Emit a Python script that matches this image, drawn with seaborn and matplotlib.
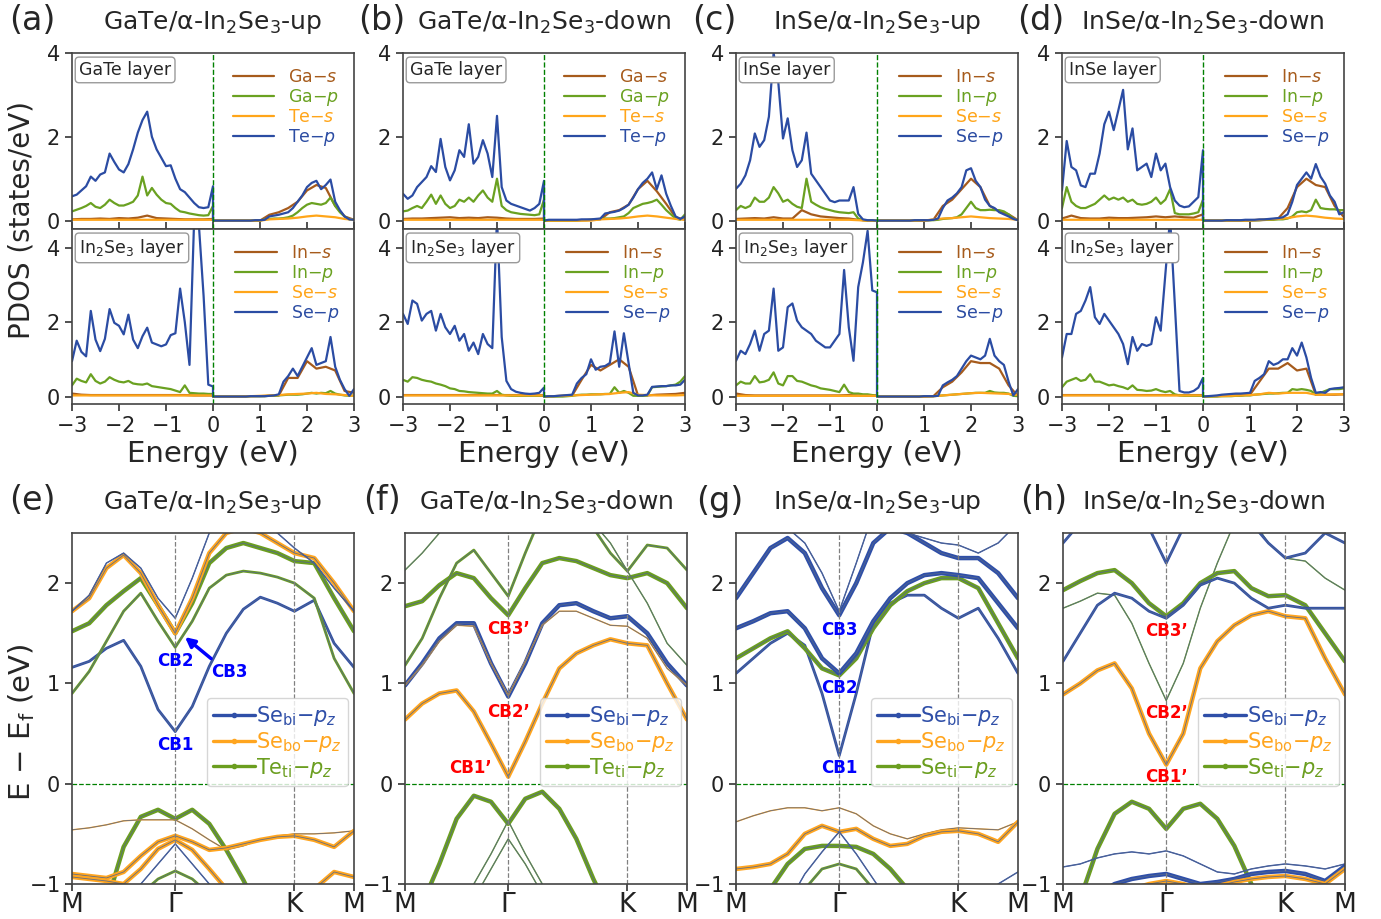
import numpy as np
import seaborn as sns
import matplotlib.pyplot as plt
from matplotlib.lines import Line2D

sns.set_style("ticks")
plt.rcParams["font.family"] = ["DejaVu Sans"]
plt.rcParams["mathtext.fontset"] = "dejavusans"

# ---------------- energy grids (eV) ----------------
E_FINE = np.concatenate([np.linspace(-3, 0, 31), np.linspace(0, 3, 31)])
E_COARSE = np.concatenate([np.linspace(-3, 0, 16), np.linspace(0, 3, 16)])

# ---------------- PDOS data (VB part then CB part) ----------------
# naming: panel + layer(1 = top layer, 2 = In2Se3), MS/MP = metal s/p, XS/XP = chalcogen s/p
A1_XP = [0.58,0.62,0.72,0.82,1.05,0.95,1.1,1.15,1.6,1.4,1.22,1.15,1.35,1.7,2.1,2.4,2.6,2.0,1.7,1.5,1.3,1.32,1.0,0.75,0.68,0.55,0.42,0.32,0.3,0.32,0.82,
         0,0,0,0,0,0,0,0,0,0.01,0.01,0.02,0.1,0.12,0.14,0.17,0.2,0.3,0.45,0.6,0.8,0.9,0.95,0.75,0.85,0.98,0.45,0.25,0.1,0.03,0.02]
A1_MP = [0.22,0.26,0.3,0.35,0.42,0.33,0.3,0.38,0.5,0.42,0.36,0.36,0.4,0.45,0.6,1.05,0.6,0.78,0.62,0.5,0.42,0.4,0.3,0.22,0.2,0.17,0.15,0.13,0.12,0.13,0.35,
         0,0,0,0,0,0,0,0,0,0,0,0.03,0.04,0.05,0.05,0.06,0.08,0.12,0.2,0.3,0.38,0.42,0.4,0.38,0.42,0.55,0.35,0.2,0.1,0.03,0.02]
A1_MS = [0.03,0.04,0.04,0.05,0.04,0.06,0.05,0.07,0.12,0.06,0.05,0.04,0.03,0.03,0.03,0.04,
         0,0,0,0,0,0,0.14,0.2,0.3,0.45,0.72,0.85,0.78,0.35,0.1,0.02]
A1_XS = [0.02,0.02,0.02,0.02,0.02,0.02,0.02,0.02,0.02,0.02,0.02,0.02,0.02,0.02,0.02,0.02,
         0,0,0,0,0,0,0.03,0.04,0.05,0.07,0.1,0.12,0.1,0.08,0.04,0.02]

A2_XP = [0.95,1.5,1.2,1.08,2.3,1.53,1.22,1.55,2.35,1.98,1.9,1.67,2.2,1.53,1.3,1.62,1.85,1.45,1.4,1.35,1.4,1.65,1.7,2.9,2.0,0.85,4.8,4.6,2.7,0.32,0.27,
         0,0,0,0,0,0,0,0,0.01,0.01,0.01,0.01,0.02,0.03,0.06,0.4,0.55,0.75,0.55,0.8,1.05,1.3,0.85,0.9,0.95,1.6,0.8,0.45,0.2,0.02,0.2]
A2_MP = [0.3,0.48,0.42,0.38,0.6,0.42,0.35,0.4,0.52,0.45,0.4,0.38,0.42,0.35,0.33,0.32,0.35,0.28,0.26,0.24,0.22,0.2,0.16,0.12,0.3,0.1,0.09,0.08,0.08,0.07,0.07,
         0,0,0,0,0,0,0,0,0.01,0.01,0.01,0.01,0.02,0.02,0.03,0.04,0.05,0.05,0.05,0.06,0.08,0.1,0.08,0.1,0.09,0.15,0.08,0.05,0.03,0.02,0.03]
A2_MS = [0.08,0.05,0.04,0.04,0.04,0.04,0.04,0.04,0.04,0.04,0.04,0.04,0.04,0.03,0.03,0.03,
         0,0,0,0,0.01,0.01,0.02,0.03,0.5,0.5,0.95,0.75,0.8,0.7,0.15,0.1]
A2_XS = [0.03,0.03,0.03,0.03,0.03,0.03,0.03,0.03,0.03,0.03,0.03,0.03,0.03,0.03,0.03,0.03,
         0,0,0,0,0.01,0.02,0.03,0.04,0.06,0.07,0.08,0.1,0.07,0.06,0.04,0.02]

B1_XP = [0.64,0.52,0.6,0.8,0.92,1.04,1.3,1.16,1.95,1.28,0.96,1.2,1.68,1.52,2.3,1.36,1.52,1.92,1.6,1.04,2.5,0.8,0.48,0.4,0.36,0.32,0.28,0.24,0.3,0.4,0.95,
         0,0.02,0.02,0.02,0.02,0.02,0.02,0.02,0.03,0.03,0.03,0.04,0.05,0.17,0.19,0.21,0.24,0.3,0.38,0.55,0.75,0.9,1.0,1.15,0.75,1.08,0.64,0.35,0.1,0.04,0.1]
B1_MP = [0.22,0.24,0.3,0.35,0.3,0.45,0.62,0.4,0.6,0.4,0.3,0.35,0.5,0.45,0.55,0.45,0.6,0.72,0.55,0.45,1.0,0.35,0.25,0.2,0.18,0.16,0.15,0.14,0.13,0.15,0.5,
         0,0,0,0,0,0,0,0,0.01,0.01,0.02,0.03,0.04,0.05,0.05,0.06,0.08,0.1,0.18,0.3,0.35,0.4,0.42,0.45,0.5,0.38,0.25,0.15,0.05,0.02,0.15]
B1_MS = [0.04,0.05,0.05,0.06,0.07,0.08,0.06,0.07,0.06,0.08,0.07,0.05,0.04,0.04,0.04,0.05,
         0,0,0,0,0.01,0.02,0.03,0.2,0.25,0.38,0.75,0.95,0.7,0.4,0.08,0.02]
B1_XS = [0.02,0.02,0.02,0.02,0.02,0.02,0.02,0.02,0.02,0.02,0.02,0.02,0.02,0.02,0.02,0.02,
         0,0,0,0,0,0,0.03,0.04,0.05,0.07,0.1,0.12,0.1,0.07,0.04,0.02]

B2_XP = [2.22,1.95,2.58,2.49,2.04,2.22,2.3,1.77,2.22,1.86,1.68,1.9,1.5,1.68,1.23,1.45,1.14,1.68,1.41,1.3,4.8,1.6,0.42,0.2,0.13,0.1,0.08,0.07,0.08,0.1,0.24,
         0,0.01,0.01,0.02,0.03,0.04,0.05,0.35,0.5,0.6,1.0,0.72,0.8,0.82,0.9,1.75,0.8,1.7,0.9,0.1,0.03,0.03,0.05,0.26,0.27,0.28,0.28,0.3,0.3,0.32,0.45]
B2_MP = [0.45,0.4,0.52,0.5,0.45,0.42,0.4,0.35,0.32,0.28,0.22,0.2,0.15,0.14,0.12,0.11,0.1,0.09,0.08,0.08,0.15,0.05,0.03,0.02,0.02,0.02,0.02,0.02,0.02,0.02,0.02,
         0,0,0,0,0,0.01,0.02,0.04,0.05,0.05,0.06,0.06,0.06,0.07,0.07,0.25,0.1,0.15,0.1,0.02,0.02,0.02,0.03,0.25,0.26,0.27,0.28,0.3,0.32,0.4,0.55]
B2_MS = [0.04,0.04,0.04,0.04,0.04,0.04,0.04,0.04,0.04,0.04,0.04,0.04,0.04,0.04,0.04,0.04,
         0,0.01,0.02,0.03,0.45,0.85,0.7,0.85,1.0,0.8,0.03,0.03,0.05,0.06,0.07,0.1]
B2_XS = [0.03,0.03,0.03,0.03,0.03,0.03,0.03,0.03,0.03,0.03,0.03,0.03,0.03,0.03,0.03,0.03,
         0,0.01,0.02,0.03,0.04,0.05,0.06,0.07,0.1,0.12,0.05,0.04,0.03,0.03,0.03,0.04]

C1_XP = [0.76,0.88,1.08,1.44,2.08,1.76,1.92,2.48,4.0,3.3,1.96,2.44,1.68,1.28,1.44,2.1,1.12,0.96,0.8,0.64,0.48,0.44,0.48,0.48,0.48,0.8,0.16,0.03,0.01,0.01,0.0,
         0,0,0,0,0,0,0,0,0.01,0.01,0.01,0.01,0.02,0.05,0.3,0.48,0.55,0.65,0.8,1.2,1.25,0.95,0.8,0.5,0.35,0.3,0.2,0.15,0.1,0.04,0.01]
C1_MP = [0.25,0.35,0.3,0.35,0.55,0.45,0.45,0.55,0.8,0.65,0.45,0.5,0.4,0.33,0.3,1.0,0.45,0.38,0.32,0.28,0.25,0.22,0.2,0.19,0.18,0.2,0.05,0.01,0.0,0.0,0.0,
         0,0,0,0,0,0,0,0,0,0,0.01,0.01,0.01,0.02,0.04,0.05,0.06,0.08,0.15,0.3,0.45,0.3,0.25,0.25,0.26,0.25,0.25,0.22,0.15,0.05,0.01]
C1_MS = [0.04,0.05,0.06,0.05,0.08,0.05,0.05,0.25,0.15,0.1,0.08,0.06,0.05,0.02,0.0,0.0,
         0,0,0,0,0,0,0.02,0.35,0.5,0.75,1.0,0.8,0.35,0.22,0.15,0.01]
C1_XS = [0.02,0.02,0.02,0.02,0.02,0.02,0.02,0.02,0.02,0.02,0.02,0.02,0.02,0.01,0,0,
         0,0,0,0,0,0,0.03,0.05,0.06,0.08,0.1,0.08,0.06,0.05,0.04,0.02]

C2_XP = [0.96,1.23,1.14,1.41,1.77,1.23,1.68,1.77,2.9,1.23,1.32,2.4,2.5,2.04,1.86,1.77,1.68,1.5,1.41,1.32,1.32,1.5,1.68,3.4,1.86,0.96,2.94,3.6,4.45,2.85,2.8,
         0,0,0,0,0,0,0,0,0,0,0.01,0.01,0.01,0.02,0.3,0.38,0.45,0.55,0.75,0.95,1.1,1.05,1.0,1.1,1.55,1.1,0.95,0.85,0.4,0.03,0.2]
C2_MP = [0.3,0.4,0.35,0.35,0.55,0.38,0.4,0.45,0.65,0.35,0.3,0.55,0.55,0.42,0.4,0.35,0.3,0.27,0.22,0.2,0.18,0.15,0.12,0.32,0.12,0.08,0.08,0.06,0.06,0.04,0.03,
         0,0,0,0,0,0,0,0,0,0,0.01,0.01,0.01,0.02,0.03,0.04,0.05,0.06,0.07,0.08,0.09,0.1,0.1,0.1,0.15,0.11,0.1,0.1,0.08,0.02,0.01]
C2_MS = [0.08,0.04,0.03,0.03,0.03,0.03,0.03,0.03,0.03,0.03,0.03,0.03,0.04,0.03,0.02,0.02,
         0,0,0,0,0,0,0.01,0.25,0.4,0.65,0.95,0.9,0.9,0.75,0.3,0.01]
C2_XS = [0.02,0.02,0.02,0.02,0.02,0.02,0.02,0.02,0.02,0.02,0.02,0.02,0.02,0.02,0.02,0.02,
         0,0,0,0,0,0,0.01,0.03,0.05,0.07,0.09,0.1,0.09,0.08,0.07,0.04]

D1_XP = [0.72,1.9,1.28,1.2,0.84,0.8,1.12,1.12,1.6,2.3,2.6,2.16,2.64,3.12,1.7,2.2,1.2,1.28,1.36,1.04,1.6,1.2,1.36,0.8,0.48,0.36,0.32,0.34,0.45,0.56,1.68,
         0,0,0,0,0,0.01,0.01,0.01,0.01,0.02,0.02,0.02,0.03,0.03,0.04,0.05,0.06,0.08,0.15,0.45,0.85,1.0,1.15,1.0,1.35,1.05,0.88,0.6,0.45,0.15,0.2]
D1_MP = [0.3,0.8,0.45,0.35,0.3,0.3,0.35,0.4,0.5,0.6,0.5,0.55,0.5,0.55,0.45,0.5,0.4,0.38,0.4,0.45,0.55,0.4,0.5,0.75,0.18,0.15,0.15,0.15,0.17,0.2,0.5,
         0,0,0,0,0,0,0,0,0,0.01,0.01,0.01,0.01,0.02,0.02,0.02,0.03,0.03,0.05,0.1,0.2,0.22,0.2,0.25,0.5,0.3,0.28,0.27,0.27,0.25,0.25]
D1_MS = [0.05,0.12,0.06,0.05,0.05,0.07,0.06,0.06,0.07,0.08,0.1,0.08,0.1,0.08,0.07,0.15,
         0,0,0,0,0,0,0.01,0.02,0.05,0.3,0.8,1.0,0.85,0.8,0.35,0.08]
D1_XS = [0.02,0.02,0.02,0.02,0.02,0.02,0.02,0.02,0.02,0.02,0.02,0.02,0.02,0.02,0.02,0.02,
         0,0,0,0,0,0.01,0.02,0.03,0.04,0.06,0.1,0.12,0.1,0.07,0.05,0.04]

D2_XP = [1.05,1.68,1.68,2.22,2.3,2.58,2.94,2.13,1.95,2.22,2.04,1.86,1.68,1.41,0.87,1.6,1.23,1.41,1.36,1.41,2.13,1.77,3.3,4.8,2.49,0.15,0.11,0.11,0.15,0.24,0.5,
         0,0.01,0.02,0.03,0.05,0.06,0.07,0.08,0.08,0.09,0.1,0.42,0.5,0.6,0.95,0.85,0.9,1.0,1.0,1.3,1.1,1.45,1.05,0.5,0.1,0.12,0.1,0.2,0.22,0.23,0.25]
D2_MP = [0.25,0.4,0.45,0.5,0.42,0.45,0.6,0.4,0.4,0.35,0.3,0.32,0.28,0.25,0.2,0.3,0.18,0.17,0.15,0.16,0.2,0.15,0.12,0.15,0.06,0.03,0.02,0.02,0.02,0.02,0.02,
         0,0,0,0,0.01,0.01,0.01,0.02,0.02,0.03,0.03,0.05,0.06,0.07,0.08,0.08,0.09,0.1,0.1,0.2,0.18,0.2,0.18,0.15,0.05,0.1,0.15,0.2,0.2,0.2,0.22]
D2_MS = [0.04,0.04,0.04,0.04,0.04,0.04,0.04,0.04,0.04,0.04,0.04,0.04,0.04,0.04,0.04,0.04,
         0,0.01,0.02,0.03,0.04,0.05,0.4,0.75,0.75,0.9,0.7,0.75,0.05,0.05,0.05,0.06]
D2_XS = [0.03,0.03,0.03,0.03,0.03,0.03,0.03,0.03,0.03,0.03,0.03,0.03,0.03,0.03,0.03,0.03,
         0,0.01,0.01,0.02,0.03,0.04,0.06,0.1,0.08,0.1,0.1,0.1,0.05,0.05,0.06,0.06]

# ---------------- band structures: energies at the k-points of KPATH ----------------
K_G, K_K, K_END = 0.5774, 1.2441, 1.5774
KPATH = np.concatenate([np.linspace(0, K_G, 7), np.linspace(K_G, K_K, 8)[1:],
                        np.linspace(K_K, K_END, 4)[1:]])

BANDS_E = [
    [1.16,1.22,1.35,1.43,1.17,0.74,0.52,0.77,1.17,1.5,1.74,1.86,1.8,1.72,1.83,1.4,1.16],
    [0.9,1.12,1.42,1.72,1.9,1.62,1.36,1.62,1.95,2.08,2.12,2.1,2.06,2.0,1.85,1.25,0.9],
    [1.52,1.6,1.78,1.92,2.05,1.78,1.5,1.8,2.2,2.35,2.4,2.35,2.3,2.22,2.2,1.85,1.52],
    [1.72,1.85,2.15,2.28,2.1,1.78,1.5,1.85,2.3,2.5,2.55,2.5,2.4,2.3,2.25,2.0,1.72],
    [1.72,1.88,2.2,2.3,2.15,1.85,1.65,2.05,2.5,2.7,2.7,2.6,2.5,2.35,2.2,1.95,1.72],
    [-1.5,-1.4,-1.2,-0.63,-0.33,-0.26,-0.35,-0.26,-0.4,-0.66,-0.96,-1.3,-1.5,-1.6,-1.5,-1.4,-1.3],
    [-0.46,-0.44,-0.41,-0.37,-0.36,-0.36,-0.36,-0.45,-0.56,-0.66,-0.62,-0.56,-0.52,-0.5,-0.5,-0.49,-0.47],
    [-0.9,-0.92,-0.94,-0.88,-0.72,-0.58,-0.52,-0.58,-0.66,-0.64,-0.6,-0.56,-0.53,-0.52,-0.56,-0.63,-0.47],
    [-0.93,-0.95,-0.97,-1.0,-0.85,-0.65,-0.56,-0.66,-0.85,-1.05,-1.1,-1.1,-1.1,-1.1,-1.05,-0.88,-0.93],
    [-1.3,-1.25,-1.2,-1.15,-1.0,-0.8,-0.6,-0.8,-1.0,-1.2,-1.3,-1.3,-1.3,-1.3,-1.3,-1.3,-1.3],
    [-1.5,-1.5,-1.4,-1.3,-1.1,-0.95,-0.87,-0.95,-1.1,-1.3,-1.4,-1.5,-1.5,-1.5,-1.5,-1.5,-1.5],
]
BANDS_F = [
    [0.64,0.8,0.9,0.93,0.72,0.4,0.07,0.42,0.8,1.15,1.3,1.38,1.44,1.4,1.38,1.0,0.64],
    [0.98,1.2,1.45,1.6,1.6,1.2,0.87,1.2,1.6,1.78,1.8,1.72,1.65,1.67,1.5,1.2,0.98],
    [0.98,1.18,1.42,1.58,1.57,1.2,0.88,1.22,1.58,1.72,1.72,1.65,1.58,1.57,1.45,1.15,0.98],
    [1.77,1.82,1.98,2.1,2.05,1.85,1.68,1.95,2.2,2.25,2.22,2.15,2.08,2.05,2.1,2.0,1.75],
    [1.18,1.45,1.85,2.2,2.33,2.1,1.87,2.3,2.7,2.8,2.75,2.55,2.3,2.12,2.38,2.35,2.13],
    [2.13,2.3,2.5,2.7,2.7,2.6,2.5,2.7,2.9,2.9,2.8,2.6,2.4,2.12,1.8,1.4,1.18],
    [-1.6,-1.2,-0.8,-0.35,-0.12,-0.18,-0.4,-0.15,-0.08,-0.25,-0.55,-0.95,-1.3,-1.5,-1.6,-1.6,-1.6],
    [-2,-2,-1.7,-1.4,-1.0,-0.7,-0.37,-0.7,-1.0,-1.3,-1.6,-1.8,-2,-2,-2,-2,-2],
    [-2,-2,-1.8,-1.5,-1.15,-0.85,-0.55,-0.8,-1.1,-1.4,-1.7,-2,-2,-2,-2,-2,-2],
]
BANDS_G = [
    [1.1,1.25,1.4,1.5,1.38,0.9,0.28,0.9,1.6,1.8,1.88,1.88,1.75,1.65,1.75,1.45,1.1],
    [1.25,1.35,1.45,1.52,1.35,1.15,1.08,1.25,1.55,1.78,1.92,2.0,2.05,2.05,1.95,1.6,1.25],
    [1.55,1.62,1.7,1.72,1.55,1.25,1.1,1.3,1.62,1.85,2.0,2.08,2.1,2.08,2.05,1.8,1.55],
    [1.85,2.1,2.35,2.45,2.3,1.95,1.68,2.0,2.4,2.55,2.5,2.4,2.3,2.25,2.25,2.1,1.85],
    [2.7,2.7,2.65,2.55,2.4,2.1,1.72,2.2,2.7,2.6,2.5,2.45,2.4,2.38,2.3,2.4,2.6],
    [-0.38,-0.32,-0.27,-0.24,-0.24,-0.27,-0.24,-0.3,-0.42,-0.5,-0.55,-0.5,-0.46,-0.44,-0.45,-0.46,-0.38],
    [-0.85,-0.83,-0.8,-0.7,-0.5,-0.42,-0.48,-0.45,-0.55,-0.62,-0.6,-0.52,-0.48,-0.47,-0.5,-0.58,-0.38],
    [-1.5,-1.3,-1.05,-0.8,-0.65,-0.62,-0.62,-0.63,-0.7,-0.85,-1.05,-1.3,-1.5,-1.5,-1.5,-1.5,-1.5],
    [-1.6,-1.6,-1.5,-1.3,-1.05,-0.85,-0.8,-0.85,-1.05,-1.3,-1.5,-1.6,-1.6,-1.6,-1.6,-1.6,-1.6],
    [-2,-1.8,-1.5,-1.2,-0.9,-0.68,-0.48,-0.7,-0.95,-1.2,-1.5,-1.7,-1.8,-1.8,-1.4,-1.0,-0.88],
]
BANDS_H = [
    [0.89,1.0,1.13,1.2,0.95,0.5,0.19,0.5,1.15,1.42,1.58,1.68,1.72,1.67,1.65,1.25,0.89],
    [1.75,1.82,1.9,1.88,1.6,1.2,0.83,1.2,1.75,2.2,2.6,2.65,2.4,2.25,2.22,2.05,1.93],
    [1.93,2.02,2.1,2.13,2.0,1.8,1.67,1.8,2.0,2.1,2.12,1.95,1.87,1.88,1.78,1.5,1.22],
    [1.22,1.5,1.78,1.9,1.85,1.72,1.65,1.78,1.98,2.05,2.0,1.85,1.75,1.78,1.75,1.75,1.75],
    [2.4,2.6,2.8,2.9,2.8,2.55,2.2,2.55,2.8,2.9,2.8,2.6,2.4,2.25,2.3,2.5,2.4],
    [-1.5,-1.15,-0.65,-0.3,-0.18,-0.25,-0.45,-0.25,-0.2,-0.35,-0.62,-1.0,-1.3,-1.5,-1.6,-1.6,-1.5],
    [-0.83,-0.8,-0.74,-0.7,-0.68,-0.7,-0.67,-0.72,-0.8,-0.88,-0.9,-0.85,-0.82,-0.8,-0.82,-0.85,-0.8],
    [-1.3,-1.2,-1.1,-1.0,-0.95,-0.92,-0.9,-0.95,-1.0,-0.98,-0.95,-0.9,-0.88,-0.87,-0.9,-0.97,-0.82],
    [-1.5,-1.4,-1.3,-1.2,-1.05,-1.0,-0.97,-1.0,-1.05,-1.02,-0.98,-0.95,-0.93,-0.92,-0.95,-1.0,-0.85],
]
# dominant projection of each band (b = Se_bi, o = Se_bo, g = Te_ti/Se_ti) and weight 1..3
STYLE_E = [("b", 2), ("g", 2), ("g", 3), ("o", 3), ("b", 1), ("g", 3), ("o", 1), ("o", 3), ("o", 3), ("b", 1), ("g", 2)]
STYLE_F = [("o", 3), ("b", 3), ("o", 1), ("g", 3), ("g", 2), ("g", 1), ("g", 3), ("g", 1), ("g", 1)]
STYLE_G = [("b", 2), ("g", 3), ("b", 3), ("b", 3), ("b", 1), ("o", 1), ("o", 3), ("g", 3), ("g", 2), ("b", 1)]
STYLE_H = [("o", 3), ("g", 1), ("g", 3), ("b", 2), ("b", 2), ("g", 3), ("b", 1), ("b", 3), ("o", 3)]

# ---------------- colours ----------------
C_MS, C_MP, C_XS, C_XP = "#a65b1c", "#6aa121", "#ffa519", "#2b4ca3"
BAND_C = {"b": "#2f4fa8", "o": "#ffa51f", "g": "#6b9e1f"}
BAND_W = {1: 1.0, 2: 2.0, 3: 3.2}
SPINE = "#444444"

W, H = 1381, 919
fig = plt.figure(figsize=(W / 100, H / 100), dpi=100)

COL_L = [72, 403, 736, 1062]
BAND_L = [72, 405, 736, 1063]
AX_W = 282


def box(left, top, bottom, width=AX_W):
    return [left / W, 1 - bottom / H, width / W, (bottom - top) / H]


def style_axes(ax):
    for s in ax.spines.values():
        s.set_color(SPINE)
        s.set_linewidth(1.2)
    ax.tick_params(colors="#222222", labelsize=15, length=5, width=1.1)


def pdos_panel(ax, curves, labels, layer, ymax, top):
    cols = [C_MS, C_MP, C_XS, C_XP]
    for (x, y), lab, c in zip(curves, labels, cols):
        sns.lineplot(x=x, y=np.array(y), color=c, lw=1.6, label=lab, ax=ax,
                     sort=False, estimator=None)
    ax.axvline(0, color="green", ls="--", lw=1.0)
    ax.set_xlim(-3, 3)
    ax.set_ylim(-0.2, ymax)
    ax.set_yticks([0, 2, 4])
    ax.set_xticks([-3, -2, -1, 0, 1, 2, 3])
    ax.set_ylabel("")
    style_axes(ax)
    ax.legend(loc="upper right", frameon=False, fontsize=12.5, labelcolor="linecolor",
              handlelength=2.4, labelspacing=0.05, borderaxespad=0.45)
    ax.text(0.025, 0.955, layer, transform=ax.transAxes, ha="left", va="top", fontsize=12.5,
            bbox=dict(boxstyle="round,pad=0.22", fc="white", ec="#9a9a9a", lw=1))
    if top:
        ax.tick_params(axis="x", direction="in", labelbottom=False)
        ax.set_xlabel("")
    else:
        ax.set_xticklabels(["$-3$", "$-2$", "$-1$", "0", "1", "2", "3"])
        ax.set_xlabel("Energy (eV)", fontsize=21, labelpad=3)


PDOS = [
    ("GaTe layer", ["Ga", "Te"], (A1_MS, A1_MP, A1_XS, A1_XP), (A2_MS, A2_MP, A2_XS, A2_XP)),
    ("GaTe layer", ["Ga", "Te"], (B1_MS, B1_MP, B1_XS, B1_XP), (B2_MS, B2_MP, B2_XS, B2_XP)),
    ("InSe layer", ["In", "Se"], (C1_MS, C1_MP, C1_XS, C1_XP), (C2_MS, C2_MP, C2_XS, C2_XP)),
    ("InSe layer", ["In", "Se"], (D1_MS, D1_MP, D1_XS, D1_XP), (D2_MS, D2_MP, D2_XS, D2_XP)),
]

for i, (layer, (m, x), top_d, bot_d) in enumerate(PDOS):
    ax1 = fig.add_axes(box(COL_L[i], 53, 229))
    ax2 = fig.add_axes(box(COL_L[i], 229, 404))
    grids = [E_COARSE, E_FINE, E_COARSE, E_FINE]
    labs_top = [f"{m}$-s$", f"{m}$-p$", f"{x}$-s$", f"{x}$-p$"]
    labs_bot = ["In$-s$", "In$-p$", "Se$-s$", "Se$-p$"]
    pdos_panel(ax1, list(zip(grids, top_d)), labs_top, layer, 4.0, True)
    pdos_panel(ax2, list(zip(grids, bot_d)), labs_bot, "In$_2$Se$_3$ layer", 4.5, False)


def band_panel(ax, bands, styles, third, labels):
    for e, (c, w) in zip(bands, styles):
        sns.lineplot(x=KPATH, y=np.array(e), color=BAND_C[c], lw=BAND_W[w], ax=ax,
                     sort=False, estimator=None, legend=False,
                     solid_capstyle="round", solid_joinstyle="round")
        sns.lineplot(x=KPATH, y=np.array(e), color="#55688c", lw=0.6, alpha=0.9, ax=ax,
                     sort=False, estimator=None, legend=False)
    ax.axvline(K_G, color="gray", ls="--", lw=0.9)
    ax.axvline(K_K, color="gray", ls="--", lw=0.9)
    ax.axhline(0, color="green", ls="--", lw=0.9)
    ax.set_xlim(0, K_END)
    ax.set_ylim(-1, 2.5)
    ax.set_xticks([0, K_G, K_K, K_END])
    ax.set_xticklabels(["M", "Γ", "K", "M"], fontsize=19)
    ax.set_yticks([-1, 0, 1, 2])
    ax.set_yticklabels(["$-1$", "0", "1", "2"])
    ax.set_ylabel("")
    style_axes(ax)
    ax.tick_params(axis="x", labelsize=19, pad=1)
    cols = [BAND_C["b"], BAND_C["o"], BAND_C["g"]]
    handles = [Line2D([0], [0], color=c, lw=2.4, marker="o", ms=3) for c in cols]
    names = [r"Se$_{\rm bi}{-}p_z$", r"Se$_{\rm bo}{-}p_z$", third + r"$_{\rm ti}{-}p_z$"]
    ax.legend(handles, names, loc="lower right", bbox_to_anchor=(1.0, 0.262), fontsize=15,
              labelcolor=cols, handlelength=2.0, handletextpad=0.05, labelspacing=0.08,
              borderpad=0.3, borderaxespad=0.3, framealpha=0.8, edgecolor="#cccccc")
    for txt, kx, ey, col in labels:
        ax.text(kx, ey, txt, color=col, fontsize=12, fontweight="bold", ha="center", va="center")


BANDS = [
    (BANDS_E, STYLE_E, "Te", [("CB2", K_G, 1.22, "blue"), ("CB1", K_G, 0.39, "blue"),
                               ("CB3", 0.88, 1.11, "blue")]),
    (BANDS_F, STYLE_F, "Te", [("CB3’", K_G, 1.54, "red"), ("CB2’", K_G, 0.72, "red"),
                               ("CB1’", 0.365, 0.16, "red")]),
    (BANDS_G, STYLE_G, "Se", [("CB3", K_G, 1.53, "blue"), ("CB2", K_G, 0.95, "blue"),
                               ("CB1", K_G, 0.16, "blue")]),
    (BANDS_H, STYLE_H, "Se", [("CB3’", K_G, 1.52, "red"), ("CB2’", K_G, 0.71, "red"),
                               ("CB1’", K_G, 0.07, "red")]),
]

for i, (bands, styles, third, labels) in enumerate(BANDS):
    ax = fig.add_axes(box(BAND_L[i], 533, 884))
    band_panel(ax, bands, styles, third, labels)
    if i == 0:
        ax.annotate("", xy=(0.62, 1.48), xytext=(0.79, 1.23),
                    arrowprops=dict(arrowstyle="-|>", color="blue", lw=2.5, mutation_scale=14))

# titles and panel letters
TITLES = ["GaTe/α-In$_2$Se$_3$-up", "GaTe/α-In$_2$Se$_3$-down",
          "InSe/α-In$_2$Se$_3$-up", "InSe/α-In$_2$Se$_3$-down"]
TOP_TAGS = [("(a)", 32), ("(b)", 382), ("(c)", 714), ("(d)", 1041)]
BOT_TAGS = [("(e)", 32), ("(f)", 382), ("(g)", 720), ("(h)", 1044)]
for i, t in enumerate(TITLES):
    fig.text((COL_L[i] + AX_W / 2) / W, 1 - 22 / H, t, ha="center", va="center", fontsize=18)
    fig.text((BAND_L[i] + AX_W / 2) / W, 1 - 502 / H, t, ha="center", va="center", fontsize=18)
    fig.text(TOP_TAGS[i][1] / W, 1 - 21 / H, TOP_TAGS[i][0], ha="center", va="center", fontsize=24)
    fig.text(BOT_TAGS[i][1] / W, 1 - 501 / H, BOT_TAGS[i][0], ha="center", va="center", fontsize=24)

fig.text(22 / W, 1 - 220 / H, "PDOS (states/eV)", rotation=90, ha="center", va="center", fontsize=20)
fig.text(22 / W, 1 - 722 / H, r"E $-$ E$_\mathrm{f}$ (eV)", rotation=90, ha="center", va="center",
         fontsize=21)

fig.savefig("out.png", dpi=100)
